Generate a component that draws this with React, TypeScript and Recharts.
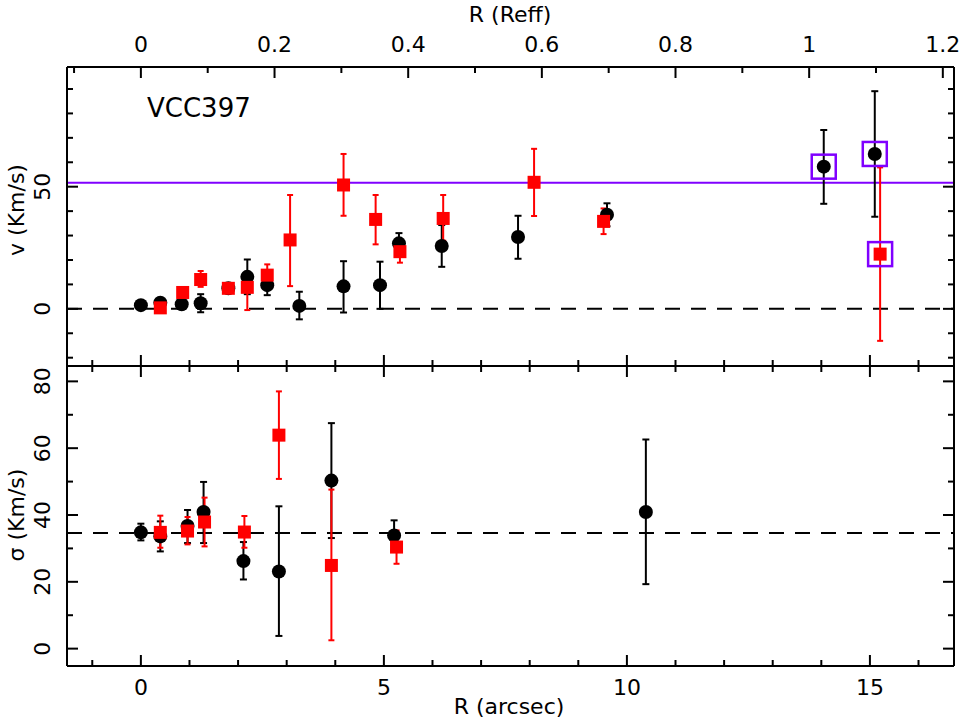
import React from 'react';
import { ScatterChart, Scatter, XAxis, YAxis, ErrorBar, ReferenceLine } from 'recharts';

const FONT = '"DejaVu Sans", "Liberation Sans", sans-serif';

// ---- axes ----
const R_DOMAIN: [number, number] = [-1.52, 16.73];
const R_TICKS = [-1, 0, 1, 2, 3, 4, 5, 6, 7, 8, 9, 10, 11, 12, 13, 14, 15, 16];
const R_MAJOR = [0, 5, 10, 15];
const REFF_ARCSEC = 13.75; // 1 Reff in arcsec
const REFF_TICKS = [-0.1, 0, 0.1, 0.2, 0.3, 0.4, 0.5, 0.6, 0.7, 0.8, 0.9, 1, 1.1, 1.2];
const REFF_MAJOR = [0, 0.2, 0.4, 0.6, 0.8, 1, 1.2];
const V_DOMAIN: [number, number] = [-23.4, 99];
const V_TICKS = [-20, -10, 0, 10, 20, 30, 40, 50, 60, 70, 80, 90];
const V_MAJOR = [0, 50];
const S_DOMAIN: [number, number] = [-5.2, 84.6];
const S_TICKS = [0, 10, 20, 30, 40, 50, 60, 70, 80];
const S_MAJOR = [0, 20, 40, 60, 80];

// ---- velocity panel ----
const VB_R = [0.0, 0.4, 0.84, 1.23, 1.8, 2.19, 2.6, 3.26, 4.17, 4.92, 5.31, 6.19, 7.76, 9.59, 14.05, 15.1];
const VB_V = [1.5, 2.5, 1.9, 2.3, 8.4, 13.1, 9.7, 1.2, 9.2, 9.7, 26.8, 25.7, 29.4, 38.5, 58.2, 63.4];
const VB_LO = [1.2, 1.5, 1.5, 3.7, 1.5, 7.1, 4.1, 5.5, 10.7, 9.7, 4.2, 8.5, 8.9, 4.7, 15.2, 25.7];
const VB_HI = [1.2, 1.5, 1.5, 3.7, 1.5, 7.1, 3.4, 5.8, 10.3, 9.6, 4.2, 8.6, 8.7, 4.7, 15.0, 25.7];

const VR_R = [0.4, 0.86, 1.23, 1.8, 2.19, 2.6, 3.07, 4.17, 4.83, 5.33, 6.22, 8.09, 9.52, 15.21];
const VR_V = [0.4, 6.7, 12.0, 8.4, 8.8, 13.8, 28.2, 50.7, 36.6, 23.4, 37.0, 51.8, 35.8, 22.4];
const VR_LO = [1.0, 1.5, 3.0, 1.5, 9.3, 4.1, 18.9, 12.6, 10.2, 4.5, 9.1, 13.8, 5.2, 35.5];
const VR_HI = [1.0, 1.5, 3.5, 1.5, 5.0, 4.4, 18.4, 12.7, 10.0, 4.3, 9.6, 13.7, 5.3, 35.5];

const BOX_R = [14.05, 15.1, 15.21];
const BOX_V = [58.2, 63.4, 22.4];

const V_SYS = 51.6;
const V_ZERO = 0;

// ---- dispersion panel ----
const SB_R = [0.0, 0.4, 0.96, 1.29, 2.11, 2.84, 3.92, 5.21, 10.39];
const SB_S = [34.8, 33.6, 36.7, 40.9, 26.2, 23.1, 50.3, 33.9, 40.9];
const SB_LO = [2.4, 4.5, 5.1, 9.3, 5.5, 19.3, 17.2, 4.5, 21.6];
const SB_HI = [2.6, 4.5, 4.8, 9.0, 5.7, 19.5, 17.2, 4.5, 21.7];

const SR_R = [0.4, 0.96, 1.31, 2.13, 2.84, 3.92, 5.26];
const SR_S = [34.8, 35.2, 37.9, 34.9, 63.9, 24.9, 30.4];
const SR_LO = [4.6, 4.0, 7.3, 4.7, 13.1, 22.4, 5.0];
const SR_HI = [5.0, 4.2, 7.3, 4.8, 13.1, 22.7, 5.0];

const S_MEAN = 34.6;

const rows = (xs: number[], ys: number[], lo?: number[], hi?: number[]) =>
  xs.map((x, i) => ({ x, y: ys[i], err: lo && hi ? [lo[i], hi[i]] : [0, 0] }));

const vBlack = rows(VB_R, VB_V, VB_LO, VB_HI);
const vRed = rows(VR_R, VR_V, VR_LO, VR_HI);
const vBox = rows(BOX_R, BOX_V);
const sBlack = rows(SB_R, SB_S, SB_LO, SB_HI);
const sRed = rows(SR_R, SR_S, SR_LO, SR_HI);

// Reff ticks expressed in arcsec so the top axis shares the data axis scale
const REFF_TICKS_AS = REFF_TICKS.map((t) => t * REFF_ARCSEC);
const REFF_MAJOR_AS = REFF_MAJOR.map((t) => t * REFF_ARCSEC);
const reffLabel = (v: number) => String(Math.round((v / REFF_ARCSEC) * 10) / 10);

const isIn = (v: number, arr: number[]) => arr.some((m) => Math.abs(m - v) < 1e-6);

type Side = 'top' | 'bottom' | 'left' | 'right';

function makeTick(side: Side, majors: number[], showLabels: boolean, fmt?: (v: number) => string) {
  return (props: any) => {
    const { x, y, payload } = props;
    const v = payload.value as number;
    const major = isIn(v, majors);
    const len = major ? 11 : 6;
    let x2 = x, y2 = y;
    if (side === 'top') y2 = y + len;
    if (side === 'bottom') y2 = y - len;
    if (side === 'left') x2 = x + len;
    if (side === 'right') x2 = x - len;
    let label: React.ReactNode = null;
    if (showLabels && major) {
      const txt = fmt ? fmt(v) : String(v);
      if (side === 'top')
        label = <text x={x} y={y - 23} textAnchor="middle" dominantBaseline="central" fontSize={22} fontFamily={FONT} fill="#000">{txt}</text>;
      else if (side === 'bottom')
        label = <text x={x} y={y + 21} textAnchor="middle" dominantBaseline="central" fontSize={22} fontFamily={FONT} fill="#000">{txt}</text>;
      else if (side === 'left')
        label = <text x={x - 24.5} y={y} textAnchor="middle" dominantBaseline="central" fontSize={22} fontFamily={FONT} fill="#000" transform={`rotate(-90 ${x - 24.5} ${y})`}>{txt}</text>;
    }
    return (
      <g>
        <line x1={x} y1={y} x2={x2} y2={y2} stroke="#000" strokeWidth={2} />
        {label}
      </g>
    );
  };
}

const circleShape = (p: any) => <circle cx={p.cx} cy={p.cy} r={7} fill="#000" />;
const squareShape = (p: any) => <rect x={p.cx - 6.5} y={p.cy - 6.5} width={13} height={13} fill="#ff0000" />;
const boxShape = (p: any) => (
  <rect x={p.cx - 12} y={p.cy - 12} width={24} height={24} fill="none" stroke="#8000ff" strokeWidth={2.5} />
);
const emptyShape = () => <g />;

const axisLine = { stroke: '#000', strokeWidth: 2 };
const common = { type: 'number' as const, interval: 0 as const, tickSize: 0, tickMargin: 0, tickLine: false, allowDataOverflow: true, axisLine };

export default function App() {
  return (
    <div style={{ position: 'absolute', left: 0, top: 0, width: 961, height: 720, background: '#fff', overflow: 'hidden' }}>
      <div style={{ position: 'absolute', left: 0, top: 0 }}>
        <ScatterChart width={961} height={380} margin={{ top: 66, right: 6, bottom: 13, left: 66 }}>
          <XAxis xAxisId="reff" dataKey="x" orientation="top" height={1} domain={R_DOMAIN} ticks={REFF_TICKS_AS} tick={makeTick('top', REFF_MAJOR_AS, true, reffLabel)} {...common} />
          <XAxis xAxisId="r" dataKey="x" orientation="bottom" height={1} domain={R_DOMAIN} ticks={R_TICKS} tick={makeTick('bottom', R_MAJOR, false)} {...common} />
          <YAxis yAxisId="v" dataKey="y" orientation="left" width={1} domain={V_DOMAIN} ticks={V_TICKS} tick={makeTick('left', V_MAJOR, true)} {...common} />
          <YAxis yAxisId="vr" dataKey="y" orientation="right" width={1} domain={V_DOMAIN} ticks={V_TICKS} tick={makeTick('right', V_MAJOR, false)} {...common} />
          <ReferenceLine xAxisId="r" yAxisId="v" y={V_ZERO} stroke="#000" strokeWidth={2} strokeDasharray="15 11" />
          <ReferenceLine xAxisId="r" yAxisId="v" y={V_SYS} stroke="#8000ff" strokeWidth={2} />
          <Scatter xAxisId="reff" yAxisId="vr" data={vBox} shape={emptyShape} isAnimationActive={false} />
          <Scatter xAxisId="r" yAxisId="v" data={vBlack} shape={circleShape} isAnimationActive={false}>
            <ErrorBar dataKey="err" direction="y" width={3.5} stroke="#000" strokeWidth={2} />
          </Scatter>
          <Scatter xAxisId="r" yAxisId="v" data={vRed} shape={squareShape} isAnimationActive={false}>
            <ErrorBar dataKey="err" direction="y" width={3} stroke="#ff0000" strokeWidth={2} />
          </Scatter>
          <Scatter xAxisId="r" yAxisId="v" data={vBox} shape={boxShape} isAnimationActive={false} />
        </ScatterChart>
      </div>
      <div style={{ position: 'absolute', left: 0, top: 0 }}>
        <ScatterChart width={961} height={720} margin={{ top: 365, right: 6, bottom: 53, left: 66 }}>
          <XAxis xAxisId="rt" dataKey="x" orientation="top" height={1} domain={R_DOMAIN} ticks={R_TICKS} tick={makeTick('top', R_MAJOR, false)} {...common} />
          <XAxis xAxisId="r" dataKey="x" orientation="bottom" height={1} domain={R_DOMAIN} ticks={R_TICKS} tick={makeTick('bottom', R_MAJOR, true)} {...common} />
          <YAxis yAxisId="s" dataKey="y" orientation="left" width={1} domain={S_DOMAIN} ticks={S_TICKS} tick={makeTick('left', S_MAJOR, true)} {...common} />
          <YAxis yAxisId="sr" dataKey="y" orientation="right" width={1} domain={S_DOMAIN} ticks={S_TICKS} tick={makeTick('right', S_MAJOR, false)} {...common} />
          <ReferenceLine xAxisId="r" yAxisId="s" y={S_MEAN} stroke="#000" strokeWidth={2} strokeDasharray="15 11" />
          <Scatter xAxisId="rt" yAxisId="sr" data={sBlack} shape={emptyShape} isAnimationActive={false} />
          <Scatter xAxisId="r" yAxisId="s" data={sBlack} shape={circleShape} isAnimationActive={false}>
            <ErrorBar dataKey="err" direction="y" width={3.5} stroke="#000" strokeWidth={2} />
          </Scatter>
          <Scatter xAxisId="r" yAxisId="s" data={sRed} shape={squareShape} isAnimationActive={false}>
            <ErrorBar dataKey="err" direction="y" width={3} stroke="#ff0000" strokeWidth={2} />
          </Scatter>
        </ScatterChart>
      </div>
      <svg width={961} height={720} style={{ position: 'absolute', left: 0, top: 0, pointerEvents: 'none' }}>
        <text x={510} y={14} textAnchor="middle" dominantBaseline="central" fontSize={22} fontFamily={FONT} fill="#000">R (Reff)</text>
        <text x={509} y={706} textAnchor="middle" dominantBaseline="central" fontSize={22} fontFamily={FONT} fill="#000">R (arcsec)</text>
        <text x={16} y={210} textAnchor="middle" dominantBaseline="central" fontSize={22} fontFamily={FONT} fill="#000" transform="rotate(-90 16 210)">v (Km/s)</text>
        <text x={16} y={515} textAnchor="middle" dominantBaseline="central" fontSize={22} fontFamily={FONT} fill="#000" transform="rotate(-90 16 515)">σ (Km/s)</text>
        <text x={147} y={117} fontSize={26} fontFamily={FONT} fill="#000">VCC397</text>
      </svg>
    </div>
  );
}
